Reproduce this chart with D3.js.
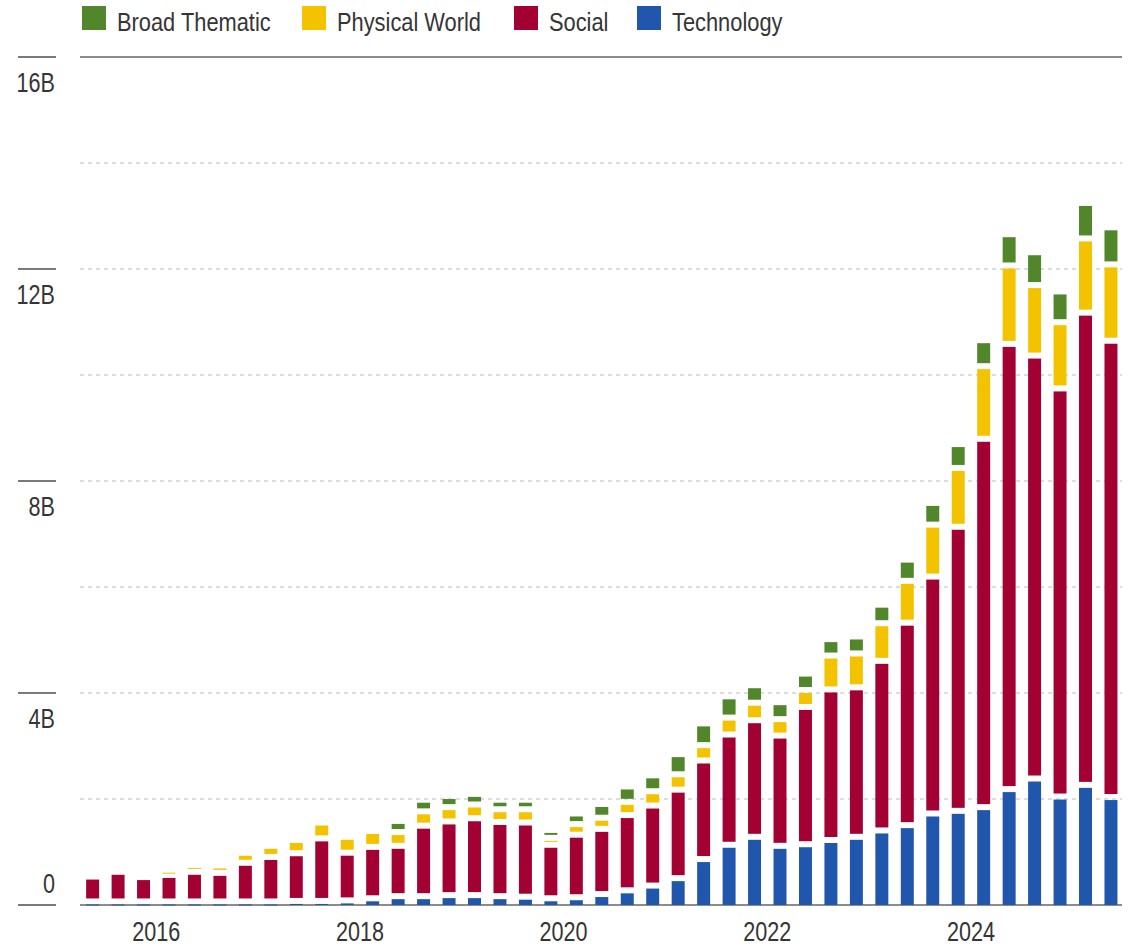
<!DOCTYPE html>
<html>
<head>
<meta charset="utf-8">
<script src="https://cdn.jsdelivr.net/npm/d3@7"></script>
<style>
  html, body { margin: 0; padding: 0; background: #ffffff; }
  svg { display: block; }
  text { font-family: "Liberation Sans", Arial, sans-serif; fill: #353535; }
</style>
</head>
<body>
<svg id="chart" width="1131" height="946"></svg>
<script>
const quarters = [
  "2015Q2","2015Q3","2015Q4",
  "2016Q1","2016Q2","2016Q3","2016Q4",
  "2017Q1","2017Q2","2017Q3","2017Q4",
  "2018Q1","2018Q2","2018Q3","2018Q4",
  "2019Q1","2019Q2","2019Q3","2019Q4",
  "2020Q1","2020Q2","2020Q3","2020Q4",
  "2021Q1","2021Q2","2021Q3","2021Q4",
  "2022Q1","2022Q2","2022Q3","2022Q4",
  "2023Q1","2023Q2","2023Q3","2023Q4",
  "2024Q1","2024Q2","2024Q3","2024Q4",
  "2025Q1","2025Q2"
];

// values in billions
const technology = [
  0.01,0.01,0.01,
  0.01,0.01,0.01,0.01,
  0.01,0.02,0.02,0.03,
  0.07,0.11,0.11,0.13,
  0.13,0.11,0.10,0.07,
  0.09,0.15,0.22,0.31,
  0.45,0.81,1.08,1.23,
  1.06,1.09,1.17,1.23,
  1.35,1.45,1.67,1.72,
  1.79,2.13,2.33,1.99,
  2.21,1.98
];
const social = [
  0.47,0.56,0.46,
  0.50,0.56,0.54,0.73,
  0.84,0.90,1.18,0.90,
  0.97,0.95,1.33,1.39,
  1.45,1.40,1.40,1.01,
  1.18,1.23,1.42,1.51,
  1.67,1.86,2.08,2.20,
  2.08,2.59,2.84,2.82,
  3.20,3.82,4.47,5.36,
  6.95,8.40,7.98,7.70,
  8.91,8.61
];
const physicalWorld = [
  0,0,0,
  0.10,0.13,0.14,0.19,
  0.21,0.25,0.30,0.30,
  0.30,0.26,0.27,0.27,
  0.26,0.24,0.25,0.13,
  0.20,0.21,0.25,0.27,
  0.29,0.29,0.32,0.33,
  0.31,0.32,0.64,0.64,
  0.71,0.79,0.98,1.11,
  1.37,1.48,1.33,1.25,
  1.40,1.44
];
const broadThematic = [
  0,0,0,
  0,0,0,0,
  0,0,0,0,
  0,0.21,0.22,0.21,
  0.20,0.18,0.18,0.15,
  0.20,0.26,0.29,0.30,
  0.38,0.41,0.40,0.33,
  0.32,0.31,0.31,0.32,
  0.35,0.40,0.41,0.45,
  0.49,0.59,0.62,0.58,
  0.67,0.70
];

const seriesNames = ["Broad Thematic", "Physical World", "Social", "Technology"];
const seriesColors = { tech: "#2156ad", social: "#a30033", physical: "#f4c300", broad: "#52862a" };

const yTicks = [0, 4, 8, 12, 16];
const yTickLabels = ["0", "4B", "8B", "12B", "16B"];
const yGrid = [2, 4, 6, 8, 10, 12, 14];
const yearLabels = ["2016", "2018", "2020", "2022", "2024"];

// ---- build table ----
const table = quarters.map((q, i) => ({
  q,
  tech: technology[i],
  social: social[i],
  physical: physicalWorld[i],
  broad: broadThematic[i]
}));

const svg = d3.select("#chart");
svg.append("rect").attr("width", 1131).attr("height", 946).attr("fill", "#ffffff");

const plotL = 80, plotR = 1122;
const x = d3.scaleBand()
  .domain(quarters)
  .range([79.9, 1123.7])
  .paddingInner(0.49)
  .paddingOuter(0.245);
const y = d3.scaleLinear().domain([0, 16]).range([905, 57]);

// condensed text helper (emulates a narrow face)
function narrowText(sel, sx) {
  return sel.attr("transform", d => `translate(${d.__x},${d.__y}) scale(${sx},1)`)
            .attr("x", 0).attr("y", 0);
}

// gridlines (dotted)
svg.append("g").selectAll("line").data(yGrid).join("line")
  .attr("x1", plotL).attr("x2", plotR)
  .attr("y1", d => y(d)).attr("y2", d => y(d))
  .attr("stroke", "#d2d2d2").attr("stroke-width", 1.5)
  .attr("stroke-dasharray", "4,4");

// top line
svg.append("line")
  .attr("x1", plotL).attr("x2", plotR)
  .attr("y1", y(16)).attr("y2", y(16))
  .attr("stroke", "#8c8c8c").attr("stroke-width", 2);

// baseline
svg.append("line")
  .attr("x1", plotL).attr("x2", plotR)
  .attr("y1", y(0)).attr("y2", y(0))
  .attr("stroke", "#8c8c8c").attr("stroke-width", 2);

// left tick marks and labels
const yAxisG = svg.append("g");
yAxisG.selectAll("line").data(yTicks).join("line")
  .attr("x1", 18).attr("x2", 56)
  .attr("y1", d => y(d)).attr("y2", d => y(d))
  .attr("stroke", "#7a7a7a").attr("stroke-width", 2);
yAxisG.selectAll("text")
  .data(yTicks.map((v, i) => ({ v, label: yTickLabels[i], __x: 55, __y: v === 0 ? y(v) - 12 : y(v) + 35 })))
  .join("text")
  .attr("text-anchor", "end")
  .attr("font-size", 27)
  .text(d => d.label)
  .call(narrowText, 0.8);

// stacked bars
const stackKeys = ["tech", "social", "physical", "broad"];
const stacked = d3.stack().keys(stackKeys)(table);
const GAP = 6;

svg.append("g").selectAll("g").data(stacked).join("g")
  .attr("fill", s => seriesColors[s.key])
  .each(function(s, si) {
    d3.select(this).selectAll("rect")
      .data(s.filter(d => d[1] - d[0] > 0))
      .join("rect")
      .attr("x", d => x(d.data.q))
      .attr("width", x.bandwidth())
      .attr("y", d => y(d[1]))
      .attr("height", d => Math.max(1, y(d[0]) - y(d[1]) - (si > 0 ? GAP : 0)));
  });

// x labels: at year boundaries
const step = x.step();
svg.append("g").selectAll("text")
  .data(yearLabels.map(yr => ({ label: yr, __x: x(yr + "Q1") - step * 0.245, __y: 941 })))
  .join("text")
  .attr("text-anchor", "middle")
  .attr("font-size", 27)
  .text(d => d.label)
  .call(narrowText, 0.8);

// legend
const legendItems = [
  { key: "broad", name: seriesNames[0], x: 82 },
  { key: "physical", name: seriesNames[1], x: 302 },
  { key: "social", name: seriesNames[2], x: 514 },
  { key: "tech", name: seriesNames[3], x: 637 }
];
const lg = svg.append("g");
lg.selectAll("rect").data(legendItems).join("rect")
  .attr("x", d => d.x).attr("y", 6)
  .attr("width", 24).attr("height", 24)
  .attr("fill", d => seriesColors[d.key]);
lg.selectAll("text")
  .data(legendItems.map(d => Object.assign({}, d, { __x: d.x + 35, __y: 31 })))
  .join("text")
  .attr("font-size", 26)
  .text(d => d.name)
  .call(narrowText, 0.84);
</script>
</body>
</html>
